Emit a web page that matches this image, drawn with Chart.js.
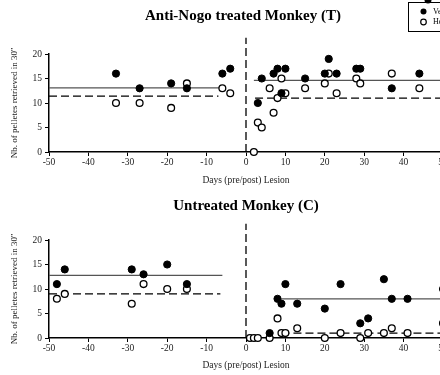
<!DOCTYPE html>
<html>
<head>
<meta charset="utf-8">
<script src="https://cdn.jsdelivr.net/npm/chart.js@4"></script>
<style>
html, body { margin: 0; padding: 0; background: #fff; }
#wrap { width: 440px; height: 375px; overflow: hidden; }
canvas { display: block; }
</style>
</head>
<body>
<div id="wrap">
  <canvas id="chartT" width="470" height="190"></canvas>
  <canvas id="chartC" width="470" height="185"></canvas>
</div>
<script>
// days relative to lesion, number of pellets
let tFilled = [[-33,16],[-27,13],[-19,14],[-15,13],[-6,16],[-4,17],
    [3,10],[4,15],[7,16],[8,17],[9,12],[10,17],[15,15],[20,16],[21,19],[23,16],[28,17],[29,17],[37,13],[44,16]];
let tOpen = [[-33,10],[-27,10],[-19,9],[-15,14],[-6,13],[-4,12],
    [2,0],[3,6],[4,5],[6,13],[7,8],[8,11],[9,15],[10,12],[15,13],[20,14],[21,16],[23,12],[28,15],[29,14],[37,16],[44,13]];
let cFilled = [[-48,11],[-46,14],[-29,14],[-26,13],[-20,15],[-15,11],
    [6,1],[8,8],[9,7],[10,11],[13,7],[20,6],[24,11],[29,3],[31,4],[35,12],[37,8],[41,8],[50,10]];
let cOpen = [[-48,8],[-46,9],[-29,7],[-26,11],[-20,10],[-15,10],
    [1,0],[2,0],[3,0],[6,0],[8,4],[9,1],[10,1],[13,2],[20,0],[24,1],[29,0],[31,1],[35,1],[37,2],[41,1],[50,3]];

// mean lines: [from, to, value]
let tMeanSolid = [[-50,-6.5,13.1],[2,55,14.6]];
let tMeanDashed = [[-50,-7,11.4],[2.3,55,11]];
let cMeanSolid = [[-50,-6,12.8],[9,55,8]];
let cMeanDashed = [[-50,-6.5,9],[9,55,1]];

let xTicks = [-50,-40,-30,-20,-10,0,10,20,30,40,50];
let legendLabels = ["Vertical", "Horizontal"];

const serif = "'Liberation Serif', 'DejaVu Serif', serif";

function toPoints(arr) {
    return arr.map(([x, y]) => ({x: x, y: y}));
}

function meanSets(arr, dashed) {
    return arr.map(([a, b, v]) => ({
        type: 'line',
        data: [{x: a, y: v}, {x: b, y: v}],
        borderColor: dashed ? "#000" : "#555",
        borderWidth: 1.3,
        borderDash: dashed ? [8, 4] : [],
        pointRadius: 0,
        clip: false
    }));
}

function makeChart(id, title, titleX, filled, open, solid, dashed, topPad, lesionTop, xAxisH, withLegend) {
    let decor = {
        id: 'decor',
        beforeDatasetsDraw(chart) {
            let ctx = chart.ctx;
            let x = chart.scales.x, y = chart.scales.y;
            ctx.save();
            // lesion line
            ctx.strokeStyle = "#000";
            ctx.lineWidth = 1.3;
            ctx.setLineDash([8, 4]);
            ctx.beginPath();
            ctx.moveTo(x.getPixelForValue(0), y.getPixelForValue(0));
            ctx.lineTo(x.getPixelForValue(0), y.getPixelForValue(lesionTop));
            ctx.stroke();
            ctx.restore();
        },
        afterDraw(chart) {
            let ctx = chart.ctx;
            ctx.save();
            ctx.fillStyle = "#000";
            ctx.font = "bold 15px " + serif;
            ctx.textAlign = "center";
            ctx.textBaseline = "middle";
            ctx.fillText(title, titleX, 16);
            if (withLegend) {
                ctx.strokeStyle = "#000";
                ctx.lineWidth = 1;
                ctx.strokeRect(408.5, 2.5, 50, 29);
                ctx.beginPath();
                ctx.arc(428, 0, 3.5, 0, Math.PI * 2);
                ctx.fill();
                ctx.beginPath();
                ctx.arc(423.5, 11.5, 3, 0, Math.PI * 2);
                ctx.fill();
                ctx.beginPath();
                ctx.arc(423.5, 22, 2.8, 0, Math.PI * 2);
                ctx.fillStyle = "#fff";
                ctx.fill();
                ctx.lineWidth = 1.2;
                ctx.stroke();
                ctx.fillStyle = "#000";
                ctx.font = "8px " + serif;
                ctx.textAlign = "left";
                ctx.fillText(legendLabels[0], 433, 11.5);
                ctx.fillText(legendLabels[1], 433, 22);
            }
            ctx.restore();
        }
    };

    return new Chart(document.getElementById(id), {
        type: 'scatter',
        data: {
            datasets: [{
                data: toPoints(filled),
                backgroundColor: "#000",
                borderColor: "#000",
                pointRadius: 3.6,
                clip: false
            }, {
                data: toPoints(open),
                backgroundColor: "#fff",
                borderColor: "#000",
                borderWidth: 1.3,
                pointRadius: 3.4,
                clip: false
            }, ...meanSets(solid, false), ...meanSets(dashed, true)]
        },
        options: {
            responsive: false,
            animation: false,
            layout: {padding: {left: 0, top: topPad, right: 27, bottom: 0}},
            plugins: {legend: {display: false}, tooltip: {enabled: false}, title: {display: false}},
            scales: {
                x: {
                    type: 'linear',
                    min: -50,
                    max: 50,
                    afterFit(scale) { scale.height = xAxisH; },
                    afterBuildTicks(scale) { scale.ticks = xTicks.map(v => ({value: v})); },
                    border: {display: true, color: "#000", width: 1.5},
                    grid: {drawOnChartArea: false, drawTicks: true, tickLength: 4, color: "#000", lineWidth: 1},
                    ticks: {color: "#222", font: {family: serif, size: 9.5}, padding: 1, autoSkip: false, maxRotation: 0},
                    title: {display: true, text: "Days (pre/post) Lesion", color: "#222",
                        font: {family: serif, size: 9.5}, padding: {top: 0, bottom: 4}}
                },
                y: {
                    type: 'linear',
                    min: 0,
                    max: 20,
                    afterFit(scale) { scale.width = 49; },
                    border: {display: true, color: "#000", width: 1.5},
                    grid: {drawOnChartArea: false, drawTicks: true, tickLength: 4, color: "#000", lineWidth: 1},
                    ticks: {color: "#222", font: {family: serif, size: 9.5}, padding: 3, stepSize: 5},
                    title: {display: true, text: "Nb. of pelletes retrieved in 30''", color: "#222",
                        font: {family: serif, size: 9}, padding: {top: 9.5, bottom: 0}}
                }
            }
        },
        plugins: [decor]
    });
}

makeChart("chartT", "Anti-Nogo treated Monkey (T)", 243, tFilled, tOpen, tMeanSolid, tMeanDashed, 54, 23.3, 38, true);
makeChart("chartC", "Untreated Monkey (C)", 246, cFilled, cOpen, cMeanSolid, cMeanDashed, 50, 23.3, 37, false);
</script>
</body>
</html>
